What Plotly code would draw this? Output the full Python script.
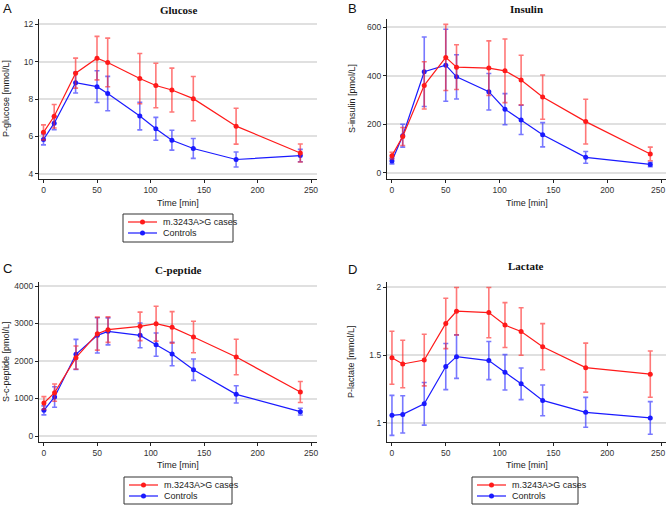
import plotly.graph_objects as go

time_min = [0, 10, 30, 50, 60, 90, 105, 120, 140, 180, 240]

glucose_cases = [6.22, 7.08, 9.38, 10.18, 9.95, 9.09, 8.72, 8.48, 8.02, 6.55, 5.12]
glucose_cases_err = [0.40, 0.63, 0.80, 1.16, 1.30, 1.34, 1.19, 1.17, 1.18, 0.96, 0.48]
glucose_ctrl = [5.84, 6.71, 8.87, 8.66, 8.29, 7.09, 6.41, 5.80, 5.36, 4.77, 4.98]
glucose_ctrl_err = [0.29, 0.35, 0.55, 0.85, 0.92, 0.74, 0.61, 0.53, 0.53, 0.40, 0.33]

insulin_cases = [71, 150, 360, 475, 435, 431, 420, 382, 312, 211, 78]
insulin_cases_err = [14, 37, 97, 136, 92, 112, 131, 102, 91, 92, 28]
insulin_ctrl = [49, 153, 416, 443, 395, 334, 262, 218, 157, 64, 35]
insulin_ctrl_err = [12, 47, 143, 148, 91, 75, 64, 60, 50, 24, 9]

cpep_cases = [880, 1156, 2089, 2729, 2836, 2924, 2996, 2898, 2640, 2107, 1173]
cpep_cases_err = [170, 230, 310, 440, 340, 380, 465, 420, 420, 475, 280]
cpep_ctrl = [684, 1040, 2178, 2684, 2791, 2684, 2436, 2187, 1769, 1111, 649]
cpep_ctrl_err = [120, 275, 400, 470, 360, 330, 310, 315, 285, 230, 90]

lact_cases = [1.48, 1.434, 1.463, 1.732, 1.822, 1.812, 1.72, 1.673, 1.561, 1.407, 1.359]
lact_cases_err = [0.195, 0.175, 0.19, 0.185, 0.175, 0.185, 0.165, 0.175, 0.17, 0.18, 0.17]
lact_ctrl = [1.056, 1.063, 1.141, 1.415, 1.488, 1.459, 1.373, 1.288, 1.166, 1.078, 1.037]
lact_ctrl_err = [0.147, 0.137, 0.157, 0.17, 0.16, 0.14, 0.13, 0.116, 0.113, 0.11, 0.12]

series_names = ["m.3243A>G cases", "Controls"]
panel_titles = ["Glucose", "Insulin", "C-peptide", "Lactate"]
panel_letters = ["A", "B", "C", "D"]
y_titles = ["P-glucose [mmol/L]", "S-insulin [pmol/L]", "S-c-peptide [pmol/L]", "P-lactate [mmol/L]"]
x_title = "Time [min]"
y_ticks = [[4, 6, 8, 10, 12], [0, 200, 400, 600], [0, 1000, 2000, 3000, 4000], [1, 1.5, 2]]
y_tick_text = [["4", "6", "8", "10", "12"], ["0", "200", "400", "600"],
               ["0", "1000", "2000", "3000", "4000"], ["1", "1.5", "2"]]
x_ticks = [0, 50, 100, 150, 200, 250]
x_tick_text = ["0", "50", "100", "150", "200", "250"]

W, H = 667, 505
RED = "#ff1a1a"
BLUE = "#1a1aff"
RED_ERR = "rgba(255,30,30,0.6)"
BLUE_ERR = "rgba(30,30,255,0.6)"

panels = [
    (glucose_cases, glucose_cases_err, glucose_ctrl, glucose_ctrl_err),
    (insulin_cases, insulin_cases_err, insulin_ctrl, insulin_ctrl_err),
    (cpep_cases, cpep_cases_err, cpep_ctrl, cpep_ctrl_err),
    (lact_cases, lact_cases_err, lact_ctrl, lact_ctrl_err),
]

# pixel geometry of each plot area: (left, right, top, bottom)
px = [(39, 317, 19, 179), (387, 666, 19, 179), (39, 317, 282, 442), (387, 666, 282, 442)]
x_ranges = [[-4.2, 255.6], [-4.6, 254.6], [-4.6, 255.6], [-4.6, 254.6]]
y_ranges = [[3.73, 12.27], [-25, 633], [-160, 4107], [0.86, 2.037]]
title_pos = [(178, 9.5), (526, 9), (178, 270), (526, 266)]
letter_pos = [(7.5, 8.5), (352.5, 8.5), (7, 268), (352, 269)]
ytitle_x = [6, 352, 6, 351]
xtitle_y = [202.5, 202.5, 465, 465]
edge_panels = [1, 3]  # right-hand panels whose last tick label sits at the page edge
# legend boxes (left, top, right, bottom)
legends = [(123, 214, 233, 242), (124, 477, 232, 504), (472, 477, 578, 504)]

def fx(p):
    return p / W

def fy(p):
    return 1 - p / H

fig = go.Figure()
axis_font = dict(family="Liberation Sans, Arial", size=8.5, color="#333333")
txt_font = dict(family="Liberation Sans, Arial", size=9, color="#222222")

for i, (c, ce, k, ke) in enumerate(panels):
    n = "" if i == 0 else str(i + 1)
    xa, ya = "x" + n, "y" + n
    for vals, errs, col, name, ecol in [
        (k, ke, BLUE, series_names[1], BLUE_ERR),
        (c, ce, RED, series_names[0], RED_ERR),
    ]:
        fig.add_trace(go.Scatter(
            x=time_min, y=vals, name=name, mode="lines+markers",
            line=dict(color=col, width=1.2), marker=dict(color=col, size=5),
            error_y=dict(type="data", array=errs, visible=True, color=ecol, thickness=1.6, width=2.5),
            xaxis=xa, yaxis=ya, showlegend=False,
        ))
    l, r, t, b = px[i]
    xt = list(x_tick_text)
    if i in edge_panels:
        xt[-1] = ""
    fig.layout["xaxis" + n] = dict(
        domain=[fx(l), fx(r)], range=x_ranges[i], anchor=ya, tickvals=x_ticks, ticktext=xt,
        showline=True, linecolor="#222222", linewidth=1.2, ticks="outside", ticklen=3,
        tickcolor="#222222", showgrid=False, zeroline=False, tickfont=axis_font,
        ticklabeloverflow="allow",
    )
    fig.layout["yaxis" + n] = dict(
        domain=[fy(b), fy(t)], range=y_ranges[i], anchor=xa,
        tickvals=y_ticks[i], ticktext=y_tick_text[i],
        showline=True, linecolor="#222222", linewidth=1.2, ticks="outside", ticklen=3,
        tickcolor="#222222", showgrid=True, gridcolor="#e0e0e0", gridwidth=1.5,
        zeroline=False, tickfont=axis_font,
    )
    if i in edge_panels:
        # last tick label, right-aligned at the page edge
        fig.add_annotation(text=x_tick_text[-1], x=fx(W - 0.5), xref="paper", y=fy(b + 11), yref="paper",
                           showarrow=False, xanchor="right", yanchor="middle", font=axis_font)
    cx = (l + r) / 2
    common = dict(xref="paper", yref="paper", showarrow=False, xanchor="center", yanchor="middle")
    fig.add_annotation(text="<b>" + panel_titles[i] + "</b>", x=fx(title_pos[i][0]), y=fy(title_pos[i][1]),
                       font=dict(family="Liberation Serif, Times New Roman", size=11, color="#111111"),
                       **common)
    fig.add_annotation(text=panel_letters[i], x=fx(letter_pos[i][0]), y=fy(letter_pos[i][1]),
                       font=dict(family="Liberation Sans, Arial", size=13, color="#111111"), **common)
    fig.add_annotation(text=y_titles[i], x=fx(ytitle_x[i]), y=fy((t + b) / 2), textangle=-90,
                       font=txt_font, **common)
    fig.add_annotation(text=x_title, x=fx(cx), y=fy(xtitle_y[i]), font=txt_font, **common)

# manual legends
for (l, t, r, b) in legends:
    fig.add_shape(type="rect", xref="paper", yref="paper", x0=fx(l), x1=fx(r), y0=fy(b), y1=fy(t),
                  line=dict(color="#333333", width=1), fillcolor="white", layer="above")
    rows = [(t + 8, RED, series_names[0]), (t + 19, BLUE, series_names[1])]
    for ry, col, name in rows:
        fig.add_shape(type="line", xref="paper", yref="paper", x0=fx(l + 5), x1=fx(l + 34),
                      y0=fy(ry), y1=fy(ry), line=dict(color=col, width=1.2), layer="above")
        mx = l + 19.5
        fig.add_shape(type="circle", xref="paper", yref="paper", x0=fx(mx - 2.5), x1=fx(mx + 2.5),
                      y0=fy(ry + 2.5), y1=fy(ry - 2.5), line=dict(color=col, width=0),
                      fillcolor=col, layer="above")
        fig.add_annotation(text=name, x=fx(l + 38), y=fy(ry), xref="paper", yref="paper",
                           xanchor="left", yanchor="middle", showarrow=False, font=txt_font)

fig.update_layout(
    width=W, height=H, margin=dict(l=0, r=0, t=0, b=0),
    paper_bgcolor="white", plot_bgcolor="white", showlegend=False,
)

fig.write_html("out.html", config={"displayModeBar": False},
               post_script="document.body.style.margin='0';document.body.style.padding='0';")
